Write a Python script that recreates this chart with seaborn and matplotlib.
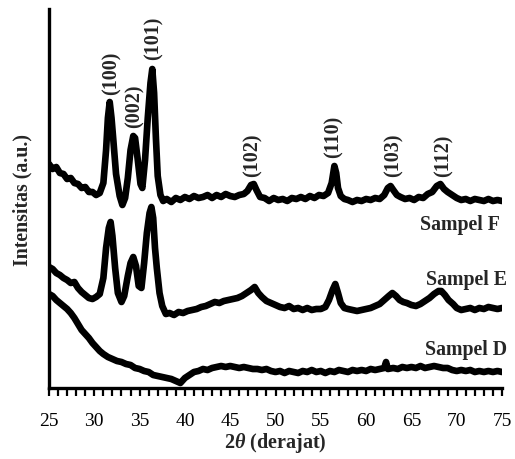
import matplotlib
matplotlib.use("Agg")
import matplotlib.pyplot as plt
import seaborn as sns
import pandas as pd
from matplotlib.ticker import MultipleLocator

# ---------------- data ----------------
x_F = [25.0, 25.4, 25.8, 26.2, 26.6, 27.0, 27.4, 27.8, 28.2, 28.6, 29.0, 29.4, 29.8, 30.2, 30.6,
       31.0, 31.3, 31.5, 31.7, 31.9, 32.1, 32.4, 32.8, 33.1, 33.4, 33.7, 34.0, 34.3, 34.5, 34.8,
       35.1, 35.3, 35.6, 35.9, 36.2, 36.4, 36.6, 36.8, 37.0, 37.3, 37.6, 38.0, 38.5, 39.0, 39.5,
       40.0, 40.5, 41.0, 41.5, 42.0, 42.5, 43.0, 43.5, 44.0, 44.5, 45.0, 45.5, 46.0, 46.5, 46.9,
       47.3, 47.6, 47.9, 48.3, 48.8, 49.3, 49.8, 50.3, 50.8, 51.3, 51.8, 52.3, 52.8, 53.3, 53.8,
       54.3, 54.8, 55.3, 55.8, 56.2, 56.5, 56.7, 56.9, 57.2, 57.6, 58.0, 58.5, 59.0, 59.5, 60.0,
       60.5, 61.0, 61.5, 62.0, 62.4, 62.7, 63.0, 63.4, 63.8, 64.3, 64.8, 65.3, 65.8, 66.3, 66.8,
       67.3, 67.8, 68.2, 68.6, 69.0, 69.5, 70.0, 70.5, 71.0, 71.5, 72.0, 72.5, 73.0, 73.5, 74.0,
       74.5, 75.0]
y_F = [224, 219, 221, 215, 214, 209, 210, 205, 204, 200, 201, 196, 196, 193, 195,
       205, 238, 270, 286, 270, 248, 214, 192, 183, 190, 210, 238, 252, 250, 228,
       204, 200, 228, 270, 305, 319, 295, 250, 212, 193, 187, 189, 186, 190, 188,
       191, 189, 192, 190, 191, 193, 190, 193, 191, 194, 192, 191, 193, 194, 197,
       203, 204, 198, 191, 190, 187, 190, 188, 189, 187, 190, 189, 191, 189, 192,
       190, 193, 192, 195, 205, 222, 215, 200, 192, 189, 188, 186, 188, 187, 189,
       188, 190, 189, 193, 200, 202, 198, 193, 191, 189, 190, 188, 191, 190, 194,
       196, 202, 204, 199, 196, 193, 190, 188, 189, 187, 189, 188, 187, 189, 187,
       188, 187]

x_E = [25.0, 25.4, 25.8, 26.2, 26.6, 27.0, 27.4, 27.8, 28.2, 28.6, 29.0, 29.4, 29.8, 30.2, 30.6,
       31.0, 31.3, 31.6, 31.8, 32.0, 32.3, 32.6, 33.0, 33.3, 33.7, 34.0, 34.3, 34.6, 34.9, 35.2,
       35.5, 35.8, 36.1, 36.3, 36.5, 36.7, 36.9, 37.2, 37.5, 37.9, 38.3, 38.8, 39.3, 39.8, 40.3,
       40.8, 41.3, 41.8, 42.3, 42.8, 43.3, 43.8, 44.3, 44.8, 45.3, 45.8, 46.3, 46.8, 47.3, 47.7,
       48.1, 48.5, 49.0, 49.5, 50.0, 50.5, 51.0, 51.5, 52.0, 52.5, 53.0, 53.5, 54.0, 54.5, 55.0,
       55.5, 55.9, 56.3, 56.6, 56.9, 57.2, 57.6, 58.0, 58.5, 59.0, 59.5, 60.0, 60.5, 61.0, 61.5,
       62.0, 62.5, 62.9, 63.3, 63.7, 64.1, 64.5, 65.0, 65.5, 66.0, 66.5, 67.0, 67.5, 68.0, 68.3,
       68.7, 69.1, 69.6, 70.0, 70.5, 71.0, 71.5, 72.0, 72.5, 73.0, 73.5, 74.0, 74.5, 75.0]
y_E = [121, 119, 115, 113, 110, 108, 105, 106, 100, 96, 93, 90, 89, 91, 94,
       110, 140, 160, 166, 152, 120, 95, 86, 92, 112, 125, 131, 122, 102, 100,
       125, 155, 175, 181, 170, 140, 120, 95, 82, 74, 75, 73, 76, 75, 77,
       78, 79, 81, 82, 84, 86, 85, 87, 88, 89, 90, 92, 95, 98, 101,
       95, 91, 87, 85, 83, 81, 80, 82, 79, 80, 78, 80, 78, 79, 79,
       81, 88, 98, 104, 95, 85, 80, 79, 78, 77, 78, 79, 80, 82, 84,
       88, 92, 95, 92, 88, 86, 85, 83, 82, 84, 87, 90, 94, 97, 97,
       93, 88, 84, 80, 78, 79, 80, 78, 80, 79, 81, 80, 79, 80]

x_D = [25.0, 25.4, 25.8, 26.2, 26.6, 27.0, 27.4, 27.8, 28.2, 28.6, 29.0, 29.4, 29.8, 30.2, 30.6,
       31.0, 31.5, 32.0, 32.5, 33.0, 33.5, 34.0, 34.5, 35.0, 35.5, 36.0, 36.5, 37.0, 37.5, 38.0,
       38.5, 39.0, 39.5, 40.0, 40.5, 41.0, 41.5, 42.0, 42.5, 43.0, 43.5, 44.0, 44.5, 45.0, 45.5,
       46.0, 46.5, 47.0, 47.5, 48.0, 48.5, 49.0, 49.5, 50.0, 50.5, 51.0, 51.5, 52.0, 52.5, 53.0,
       53.5, 54.0, 54.5, 55.0, 55.5, 56.0, 56.5, 57.0, 57.5, 58.0, 58.5, 59.0, 59.5, 60.0, 60.5,
       61.0, 61.5, 62.0, 62.2, 62.4, 63.0, 63.5, 64.0, 64.5, 65.0, 65.5, 66.0, 66.5, 67.0, 67.5,
       68.0, 68.5, 69.0, 69.5, 70.0, 70.5, 71.0, 71.5, 72.0, 72.5, 73.0, 73.5, 74.0, 74.5, 75.0]
y_D = [94, 92, 88, 85, 82, 79, 75, 70, 64, 58, 54, 50, 45, 41, 37,
       34, 31, 29, 27, 26, 24, 23, 20, 19, 17, 16, 13, 12, 11, 10,
       9, 7, 5, 10, 13, 16, 17, 19, 18, 20, 21, 22, 21, 22, 21,
       20, 21, 20, 19, 19, 18, 19, 17, 16, 17, 15, 17, 16, 15, 17,
       16, 18, 16, 17, 15, 17, 16, 18, 17, 16, 18, 17, 18, 17, 19,
       18, 19, 20, 26, 19, 20, 19, 21, 20, 21, 20, 22, 20, 21, 22,
       21, 20, 20, 18, 17, 18, 17, 18, 16, 17, 16, 17, 16, 17, 16]

samples = ["Sampel F", "Sampel E", "Sampel D"]
sample_label_x = [74.8, 75.6, 75.6]
sample_label_y = [164, 109, 39]

peak_labels = ["(100)", "(002)", "(101)", "(102)", "(110)", "(103)", "(112)"]
peak_x = [31.9, 34.5, 36.5, 47.5, 56.4, 63.0, 68.5]
peak_label_y = [294, 261, 329, 212, 231, 212, 212]

xticks = [25, 30, 35, 40, 45, 50, 55, 60, 65, 70, 75]

# ---------------- styling ----------------
sns.set_style("ticks")
plt.rcParams["font.family"] = ["Liberation Serif", "DejaVu Serif"]
plt.rcParams["mathtext.fontset"] = "custom"
plt.rcParams["mathtext.rm"] = "Liberation Serif"
plt.rcParams["mathtext.bf"] = "Liberation Serif:bold"
plt.rcParams["mathtext.bfit"] = "Liberation Serif:italic:bold"
plt.rcParams["mathtext.it"] = "Liberation Serif:italic"

df = pd.concat([
    pd.DataFrame({"x": x_F, "y": y_F, "s": samples[0]}),
    pd.DataFrame({"x": x_E, "y": y_E, "s": samples[1]}),
    pd.DataFrame({"x": x_D, "y": y_D, "s": samples[2]}),
])

fig = plt.figure(figsize=(5.15, 4.6), dpi=100)
ax = fig.add_axes([49 / 515, 71 / 460, 453 / 515, 379 / 460])

for s in samples:
    sub = df[df["s"] == s]
    sns.lineplot(data=sub, x="x", y="y", ax=ax, color="black", linewidth=4.8,
                 estimator=None, sort=False, legend=False)

ax.set_xlim(25, 75)
ax.set_ylim(0, 379)
ax.set_xticks(xticks)
ax.xaxis.set_minor_locator(MultipleLocator(1))
ax.tick_params(axis="x", which="both", direction="out", length=6, width=1.6,
               labelsize=14, pad=11, colors="black")
ax.set_yticks([])

for side in ["top", "right"]:
    ax.spines[side].set_visible(False)
for side in ["left", "bottom"]:
    ax.spines[side].set_linewidth(2.4)
    ax.spines[side].set_color("black")

ax.set_xlabel(r"$\mathbf{2}\mathbfit{\theta}$ (derajat)", fontsize=14.5, fontweight="bold", labelpad=1)
ax.set_ylabel("Intensitas (a.u.)", fontsize=14.3, fontweight="bold", labelpad=12)

for lab, lx, ly in zip(samples, sample_label_x, sample_label_y):
    ax.text(lx, ly, lab, ha="right", va="center", fontsize=14.3, fontweight="bold")

for lab, px, py in zip(peak_labels, peak_x, peak_label_y):
    ax.text(px, py, lab, rotation=90, ha="center", va="bottom", fontsize=14.5, fontweight="bold")

fig.savefig("out.png", dpi=100)
